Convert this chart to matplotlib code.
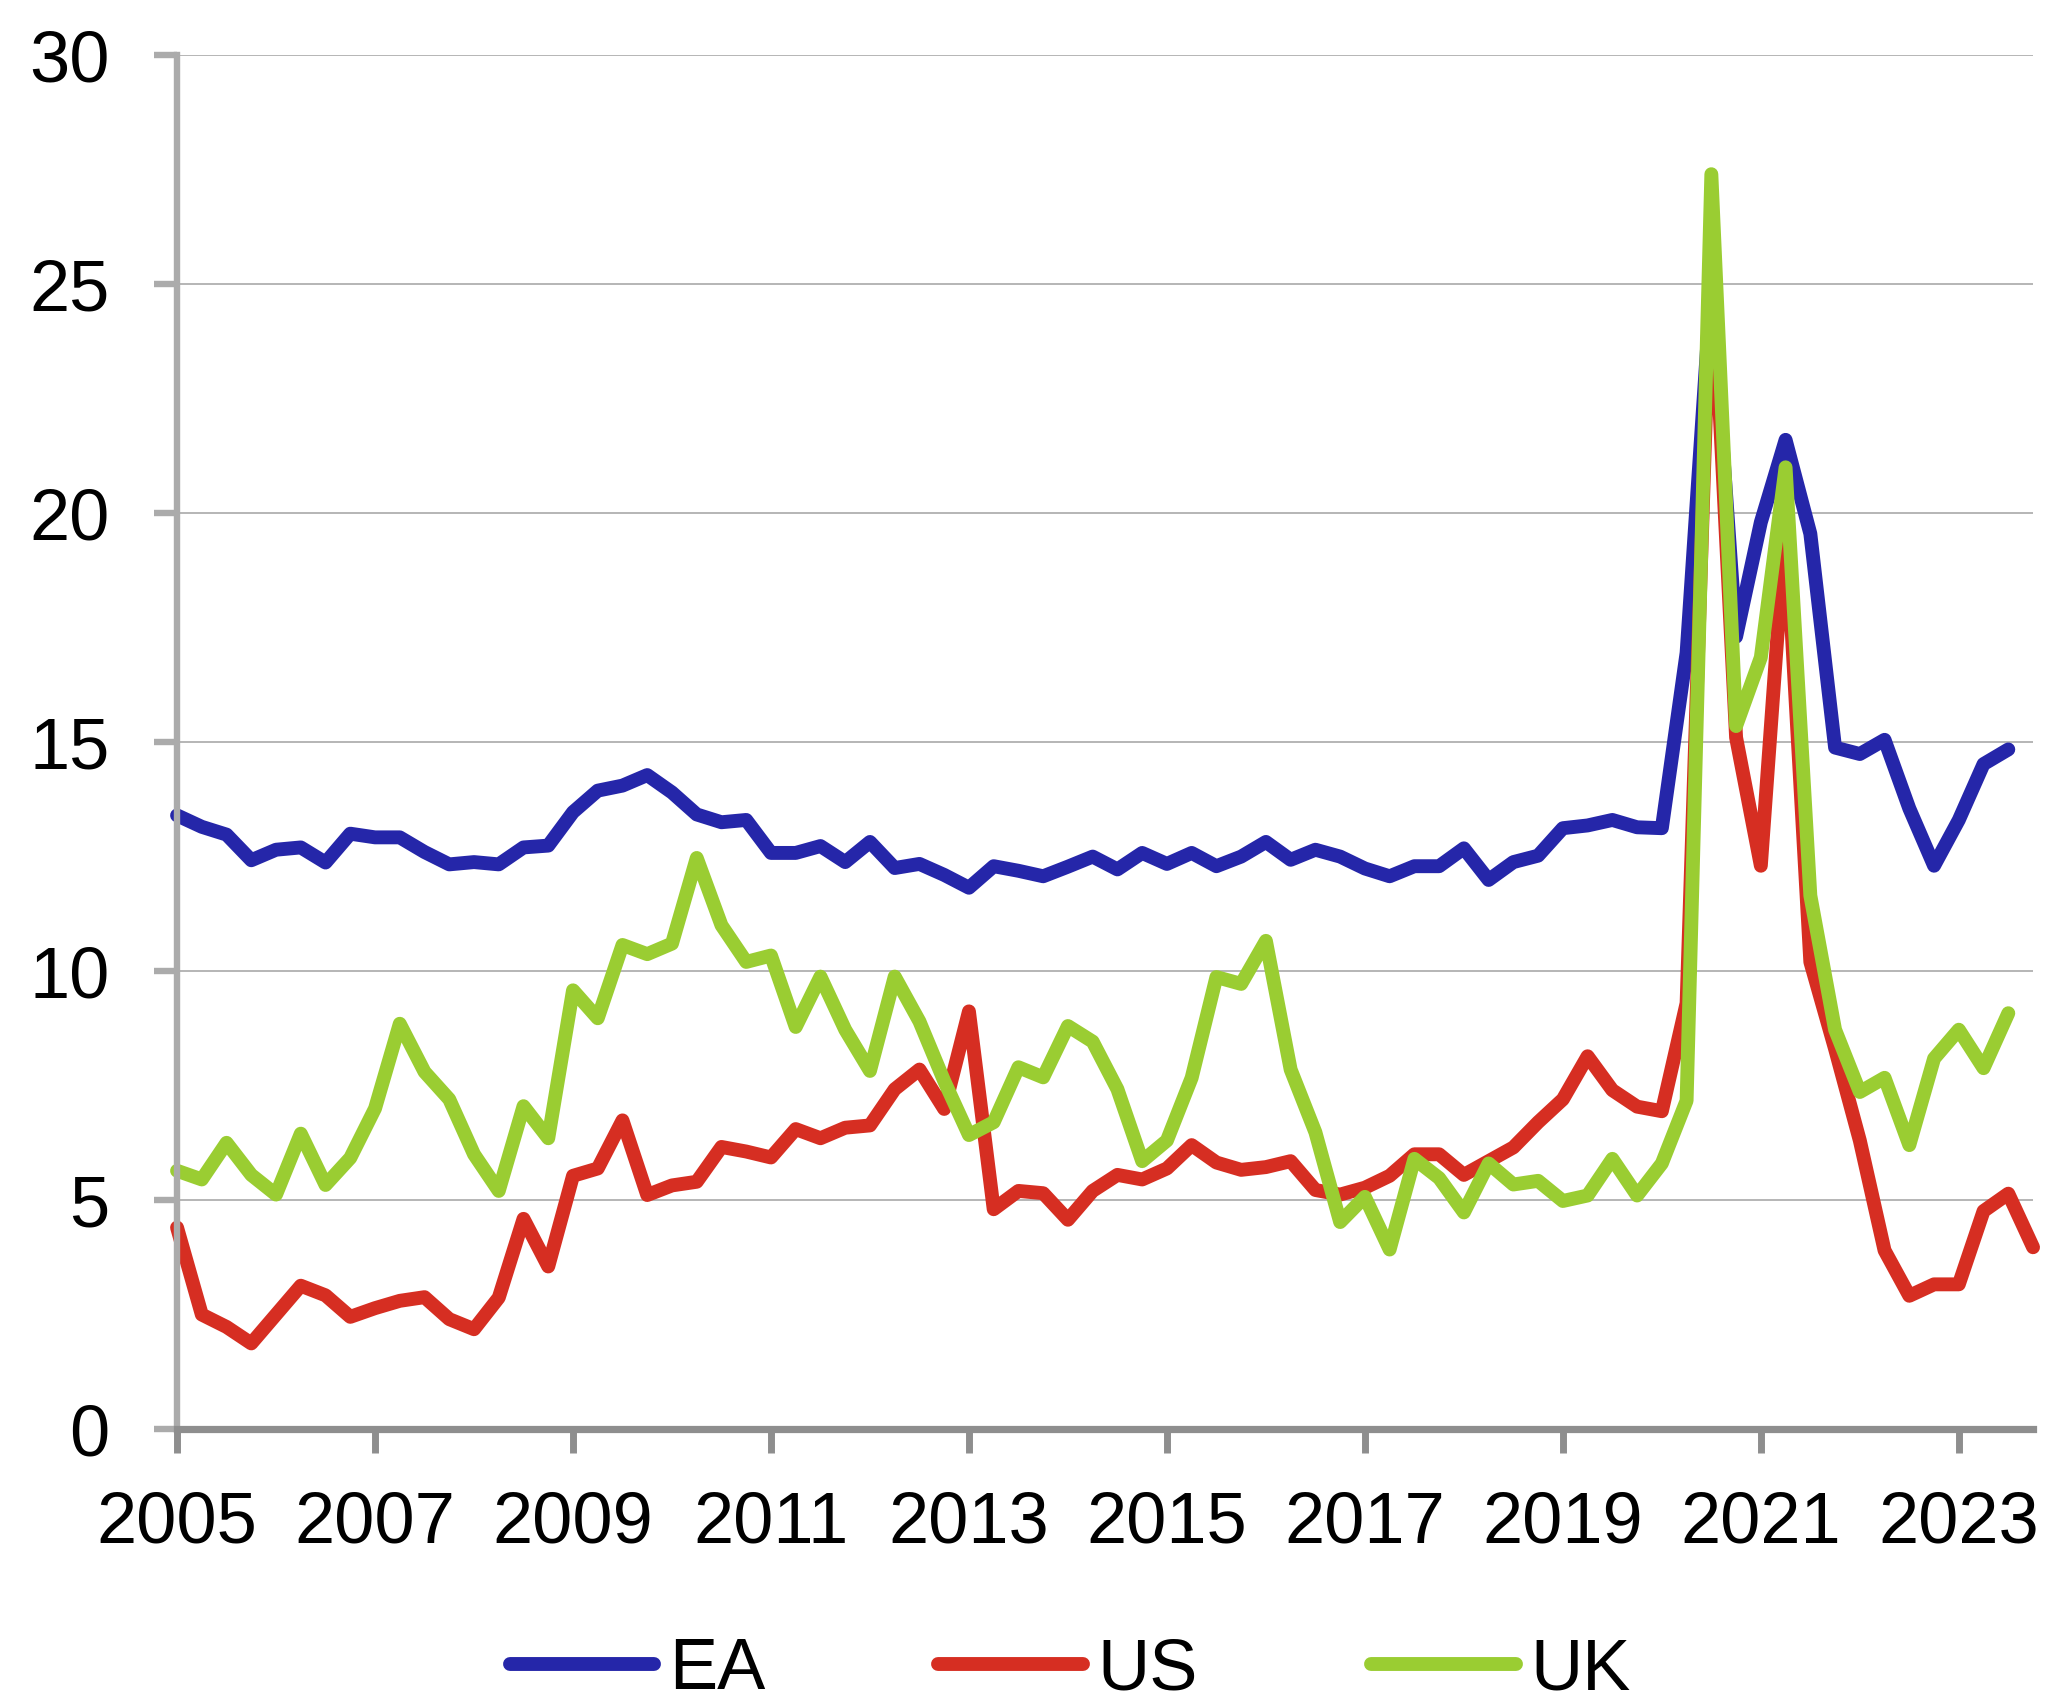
import matplotlib
matplotlib.use("Agg")
import matplotlib.pyplot as plt
import numpy as np

plt.rcParams['font.family'] = ['Liberation Sans', 'DejaVu Sans']

# Household saving rates, % of disposable income, quarterly
ea = [13.4, 13.15, 12.98, 12.42, 12.65, 12.7, 12.37, 13.0, 12.92, 12.92,
      12.6, 12.33, 12.38, 12.33, 12.7, 12.74, 13.47, 13.94, 14.05, 14.28,
      13.9, 13.42, 13.25, 13.3, 12.58, 12.58, 12.73, 12.38, 12.82, 12.25,
      12.34, 12.1, 11.82, 12.29, 12.19, 12.07, 12.28, 12.5, 12.22, 12.58,
      12.34, 12.58, 12.29, 12.5, 12.82, 12.43, 12.65, 12.5, 12.24, 12.07,
      12.29, 12.29, 12.68, 11.99, 12.38, 12.52, 13.12, 13.18, 13.3, 13.14,
      13.12, 16.95, 25.0, 17.3, 19.8, 21.6, 19.55, 14.88, 14.74, 15.05,
      13.55, 12.3, 13.3, 14.52, 14.84]

us = [4.4, 2.5, 2.23, 1.87, 2.5, 3.13, 2.92, 2.45, 2.64, 2.8,
      2.88, 2.4, 2.18, 2.87, 4.59, 3.55, 5.53, 5.69, 6.74, 5.11,
      5.32, 5.4, 6.16, 6.06, 5.93, 6.55, 6.35, 6.58, 6.63, 7.42,
      7.85, 6.99, 9.12, 4.8, 5.2, 5.15, 4.57, 5.2, 5.55, 5.45,
      5.69, 6.2, 5.82, 5.66, 5.72, 5.85, 5.22, 5.12, 5.27, 5.53,
      6.0, 6.0, 5.55, 5.85, 6.15, 6.7, 7.2, 8.14, 7.4, 7.04,
      6.94, 9.3, 25.8, 15.1, 12.3, 19.8, 10.2, 8.3, 6.3, 3.9,
      2.91, 3.16, 3.16, 4.76, 5.14, 3.97]

uk = [5.64, 5.45, 6.25, 5.55, 5.12, 6.45, 5.33, 5.92, 7.0, 8.85,
      7.8, 7.2, 6.0, 5.2, 7.05, 6.35, 9.58, 8.97, 10.57, 10.37,
      10.6, 12.47, 11.0, 10.2, 10.34, 8.78, 9.88, 8.72, 7.82, 9.88,
      8.9, 7.6, 6.42, 6.7, 7.9, 7.68, 8.8, 8.46, 7.42, 5.85,
      6.3, 7.67, 9.87, 9.72, 10.66, 7.85, 6.48, 4.52, 5.07, 3.92,
      5.9, 5.48, 4.73, 5.8, 5.34, 5.42, 4.98, 5.1, 5.9, 5.1,
      5.8, 7.17, 27.4, 15.35, 16.85, 21.0, 11.65, 8.72, 7.36, 7.67,
      6.2, 8.09, 8.72, 7.88, 9.08]

year_labels = ['2005', '2007', '2009', '2011', '2013', '2015', '2017',
               '2019', '2021', '2023']
y_ticks = [0, 5, 10, 15, 20, 25, 30]

series = [('EA', ea, '#2526A9'), ('US', us, '#D62E22'), ('UK', uk, '#9ACD32')]

fig = plt.figure(figsize=(20.54, 16.91), dpi=100)
ax = fig.add_axes([0.0862, 0.1549, 0.9036, 0.8125])

for name, vals, col in series:
    ax.plot(np.arange(len(vals)), vals, color=col, lw=10, label=name,
            solid_capstyle='round', solid_joinstyle='round', clip_on=False,
            zorder=3)

ax.set_xlim(0, 75)
ax.set_ylim(0, 30)
ax.set_yticks(y_ticks)
ax.set_xticks(np.arange(len(year_labels)) * 8)
ax.set_xticklabels(year_labels)

ax.grid(axis='y', color='#A9A9A9', lw=1.2, zorder=0)
ax.set_axisbelow(True)
for s in ['top', 'right']:
    ax.spines[s].set_visible(False)
ax.spines['left'].set_color('#ABABAB')
ax.spines['left'].set_linewidth(4.6)
ax.spines['left'].set_zorder(4)
ax.spines['bottom'].set_color('#8E8E8E')
ax.spines['bottom'].set_linewidth(5.2)
ax.spines['bottom'].set_zorder(4)

ax.tick_params(axis='y', length=16.5, width=4.6, color='#ABABAB', pad=32,
               labelsize=52)
ax.tick_params(axis='x', length=17, width=5, color='#8E8E8E', pad=27,
               labelsize=52)

fig.legend(loc='center', bbox_to_anchor=(0.521, 0.012), ncol=3,
           frameon=False, fontsize=52, handlelength=2.0, handletextpad=0.2,
           columnspacing=2.4)

fig.savefig('out.png', dpi=100)
